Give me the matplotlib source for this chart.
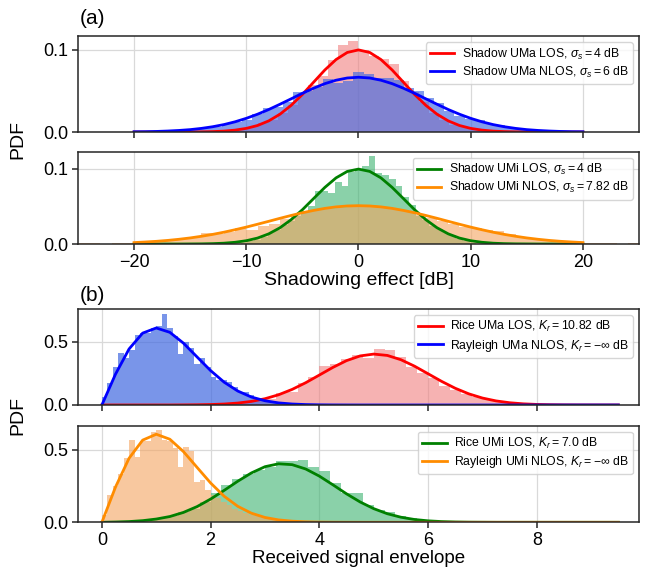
import numpy as np
import matplotlib
matplotlib.use('Agg')
import matplotlib.pyplot as plt

plt.rcParams['font.family'] = ['Liberation Sans', 'DejaVu Sans']
plt.rcParams['mathtext.fontset'] = 'custom'
plt.rcParams['mathtext.rm'] = 'Liberation Sans'
plt.rcParams['mathtext.it'] = 'Liberation Sans:italic'

# ---- (a) shadowing: fitted pdf curves, x = -20..20 dB ----
shadow_x = np.arange(-20, 21)
uma_los_pdf = [0, 0, 0, 0, 0, 0.0001, 0.0002, 0.0005, 0.0011, 0.0023, 0.0044, 0.0079, 0.0135,
               0.0216, 0.0324, 0.0456, 0.0605, 0.0753, 0.0880, 0.0966, 0.0997, 0.0966, 0.0880,
               0.0753, 0.0605, 0.0456, 0.0324, 0.0216, 0.0135, 0.0079, 0.0044, 0.0023, 0.0011,
               0.0005, 0.0002, 0.0001, 0, 0, 0, 0, 0]
uma_nlos_pdf = [0.0003, 0.0004, 0.0007, 0.0012, 0.0019, 0.0029, 0.0044, 0.0064, 0.0090, 0.0124,
                0.0166, 0.0216, 0.0273, 0.0337, 0.0403, 0.0470, 0.0532, 0.0587, 0.0629, 0.0656,
                0.0665, 0.0656, 0.0629, 0.0587, 0.0532, 0.0470, 0.0403, 0.0337, 0.0273, 0.0216,
                0.0166, 0.0124, 0.0090, 0.0064, 0.0044, 0.0029, 0.0019, 0.0012, 0.0007, 0.0004,
                0.0003]
umi_los_pdf = uma_los_pdf
umi_nlos_pdf = [0.0019, 0.0027, 0.0036, 0.0048, 0.0063, 0.0081, 0.0103, 0.0128, 0.0157, 0.0190,
                0.0225, 0.0263, 0.0302, 0.0342, 0.0380, 0.0416, 0.0447, 0.0474, 0.0494, 0.0506,
                0.0510, 0.0506, 0.0494, 0.0474, 0.0447, 0.0416, 0.0380, 0.0342, 0.0302, 0.0263,
                0.0225, 0.0190, 0.0157, 0.0128, 0.0103, 0.0081, 0.0063, 0.0048, 0.0036, 0.0027,
                0.0019]

# ---- (a) shadowing: histograms (density per bin) ----
uma_los_bins = (-13.5, 0.9)   # (first edge, bin width)
uma_los_hist = [0.0005, 0.001, 0.002, 0.003, 0.006, 0.011, 0.015, 0.023, 0.033, 0.047, 0.057,
                0.068, 0.088, 0.106, 0.111, 0.099, 0.092, 0.089, 0.083, 0.062, 0.048, 0.036,
                0.023, 0.015, 0.009, 0.006, 0.003, 0.002, 0.001, 0.0005]
uma_nlos_bins = (-21.15, 0.9)
uma_nlos_hist = [0.0003, 0.0005, 0.0005, 0.001, 0.001, 0.002, 0.003, 0.004, 0.006, 0.006, 0.010,
                 0.012, 0.015, 0.022, 0.029, 0.030, 0.036, 0.048, 0.050, 0.055, 0.064, 0.060,
                 0.062, 0.073, 0.071, 0.066, 0.065, 0.063, 0.054, 0.050, 0.041, 0.035, 0.026,
                 0.020, 0.016, 0.014, 0.010, 0.008, 0.005, 0.004, 0.003, 0.002, 0.001, 0.001,
                 0.0005, 0.0003, 0.0003]
umi_los_bins = (-10.5, 0.6)
umi_los_hist = [0.002, 0.004, 0.006, 0.009, 0.014, 0.019, 0.025, 0.031, 0.037, 0.044, 0.050,
                0.071, 0.071, 0.068, 0.083, 0.077, 0.096, 0.099, 0.104, 0.117, 0.095, 0.092,
                0.086, 0.077, 0.063, 0.052, 0.037, 0.032, 0.024, 0.020, 0.014, 0.012, 0.007,
                0.004, 0.002]
umi_nlos_bins = (-25.0, 1.0)
umi_nlos_hist = [0.0008, 0.0008, 0.0004, 0.001, 0.0015, 0.0025, 0.004, 0.006, 0.007, 0.008,
                 0.0095, 0.014, 0.013, 0.016, 0.021, 0.019, 0.024, 0.027, 0.033, 0.038, 0.042,
                 0.046, 0.047, 0.048, 0.049, 0.050, 0.049, 0.048, 0.047, 0.043, 0.039, 0.035,
                 0.031, 0.026, 0.023, 0.021, 0.018, 0.017, 0.013, 0.010, 0.008, 0.006, 0.004,
                 0.003, 0.002, 0.0015, 0.001, 0.0008, 0.0005, 0.0008]

# ---- (b) envelope: fitted pdf curves, x = 0..9.5 ----
env_x = np.arange(0, 9.75, 0.25)
rayleigh_pdf = [0, 0.2423, 0.4412, 0.5661, 0.6065, 0.5722, 0.4870, 0.3785, 0.2707, 0.1791,
                0.1098, 0.0626, 0.0333, 0.0165, 0.0077, 0.0033, 0.0013, 0.0005, 0.0002,
                0, 0, 0, 0, 0, 0, 0, 0, 0, 0, 0, 0, 0, 0, 0, 0, 0, 0, 0, 0]
rice_uma_pdf = [0, 0, 0, 0, 0, 0, 0.0006, 0.0016, 0.0036, 0.0076, 0.0152, 0.0283, 0.0493,
                0.0804, 0.1228, 0.1757, 0.2357, 0.2962, 0.3493, 0.3864, 0.4009, 0.3903, 0.3566,
                0.3058, 0.2459, 0.1857, 0.1316, 0.0876, 0.0547, 0.0321, 0.0177, 0.0091, 0.0044,
                0.0020, 0.0008, 0.0003, 0.0001, 0, 0]
rice_umi_pdf = [0, 0.0019, 0.0050, 0.0112, 0.0224, 0.0397, 0.068, 0.108, 0.160, 0.220, 0.283,
                0.340, 0.383, 0.403, 0.397, 0.367, 0.318, 0.258, 0.196, 0.140, 0.094, 0.059,
                0.035, 0.0193, 0.0100, 0.0049, 0.0022, 0.0009, 0.0004, 0, 0, 0, 0, 0, 0, 0, 0,
                0, 0]

# ---- (b) envelope: histograms ----
rice_uma_bins = (1.6, 0.2)
rice_uma_hist = [0.001, 0.002, 0.004, 0.008, 0.015, 0.025, 0.040, 0.050, 0.098, 0.105, 0.17,
                 0.22, 0.31, 0.32, 0.36, 0.39, 0.37, 0.44, 0.43, 0.38, 0.30, 0.25, 0.21, 0.15,
                 0.12, 0.09, 0.066, 0.045, 0.03, 0.02, 0.012, 0.007, 0.004, 0.002, 0.001,
                 0.0007, 0.0004, 0.0003, 0.0003]
rayleigh_uma_bins = (0.0, 0.1)
rayleigh_uma_hist = [0.06, 0.17, 0.30, 0.41, 0.37, 0.43, 0.55, 0.57, 0.57, 0.61, 0.62, 0.72,
                     0.61, 0.54, 0.40, 0.50, 0.45, 0.32, 0.37, 0.30, 0.22, 0.20, 0.20, 0.18,
                     0.145, 0.105, 0.10, 0.08, 0.05, 0.035, 0.026, 0.02, 0.015, 0.01, 0.007,
                     0.005, 0.003, 0.002, 0.001, 0.001]
rice_umi_bins = (0.0, 0.2)
rice_umi_hist = [0.0, 0.002, 0.004, 0.010, 0.020, 0.030, 0.045, 0.070, 0.095, 0.14, 0.20, 0.26,
                 0.30, 0.33, 0.36, 0.38, 0.42, 0.42, 0.43, 0.38, 0.35, 0.27, 0.20, 0.20, 0.12,
                 0.085, 0.07, 0.04, 0.027, 0.011, 0.008, 0.004, 0.002, 0.001, 0.0006, 0.0003]
rayleigh_umi_bins = (0.0, 0.1)
rayleigh_umi_hist = [0.05, 0.19, 0.25, 0.33, 0.44, 0.57, 0.45, 0.56, 0.56, 0.62, 0.635, 0.57,
                     0.56, 0.51, 0.38, 0.52, 0.49, 0.28, 0.29, 0.22, 0.19, 0.165, 0.14, 0.12,
                     0.095, 0.08, 0.065, 0.05, 0.04, 0.03, 0.022, 0.017, 0.012, 0.009, 0.006,
                     0.004, 0.003, 0.002, 0.001, 0.001]


def draw_hist(ax, bins, heights, color, alpha):
    start, w = bins
    edges = start + w * np.arange(len(heights))
    ax.bar(edges, heights, width=w, align='edge', color=color, alpha=alpha, linewidth=0)


def style_axes(ax, yticks):
    ax.grid(True, color='#d9d9d9', linewidth=0.9)
    ax.set_axisbelow(True)
    for s in ax.spines.values():
        s.set_color('#262626')
        s.set_linewidth(1.1)
    ax.tick_params(labelsize=13, length=4.5, width=1.1, color='#262626', pad=2.5)
    ax.set_yticks(yticks)
    ax.yaxis.set_major_formatter(plt.FormatStrFormatter('%.1f'))
    ax.legend(loc='upper right', fontsize=8.8, handlelength=2.0,
              labelspacing=0.25, borderpad=0.35, handletextpad=0.6)


fig = plt.figure(figsize=(6.46, 5.70), dpi=100)
left, width = 0.1207, 0.8685
ax1 = fig.add_axes([left, 0.7684, width, 0.1684])
ax2 = fig.add_axes([left, 0.5719, width, 0.1620], sharex=ax1)
ax3 = fig.add_axes([left, 0.2895, width, 0.1684])
ax4 = fig.add_axes([left, 0.0837, width, 0.1698], sharex=ax3)

# (a) UMa
draw_hist(ax1, uma_los_bins, uma_los_hist, 'lightcoral', 0.6)
draw_hist(ax1, uma_nlos_bins, uma_nlos_hist, 'royalblue', 0.65)
ax1.plot(shadow_x, uma_los_pdf, color='red', lw=2, label=r'Shadow UMa LOS, $\sigma_s = 4$ dB')
ax1.plot(shadow_x, uma_nlos_pdf, color='blue', lw=2, label=r'Shadow UMa NLOS, $\sigma_s = 6$ dB')

# (a) UMi
draw_hist(ax2, umi_los_bins, umi_los_hist, 'mediumseagreen', 0.6)
draw_hist(ax2, umi_nlos_bins, umi_nlos_hist, 'sandybrown', 0.6)
ax2.plot(shadow_x, umi_los_pdf, color='green', lw=2, label=r'Shadow UMi LOS, $\sigma_s = 4$ dB')
ax2.plot(shadow_x, umi_nlos_pdf, color='darkorange', lw=2, label=r'Shadow UMi NLOS, $\sigma_s = 7.82$ dB')

# (b) UMa
draw_hist(ax3, rice_uma_bins, rice_uma_hist, 'lightcoral', 0.6)
draw_hist(ax3, rayleigh_uma_bins, rayleigh_uma_hist, 'royalblue', 0.7)
ax3.plot(env_x, rice_uma_pdf, color='red', lw=2, label=r'Rice UMa LOS, $K_r = 10.82$ dB')
ax3.plot(env_x, rayleigh_pdf, color='blue', lw=2, label=r'Rayleigh UMa NLOS, $K_r = -\infty$ dB')

# (b) UMi
draw_hist(ax4, rice_umi_bins, rice_umi_hist, 'mediumseagreen', 0.6)
draw_hist(ax4, rayleigh_umi_bins, rayleigh_umi_hist, 'sandybrown', 0.6)
ax4.plot(env_x, rice_umi_pdf, color='green', lw=2, label=r'Rice UMi LOS, $K_r = 7.0$ dB')
ax4.plot(env_x, rayleigh_pdf, color='darkorange', lw=2, label=r'Rayleigh UMi NLOS, $K_r = -\infty$ dB')

for ax in (ax1, ax2):
    style_axes(ax, [0.0, 0.1])
for ax in (ax3, ax4):
    style_axes(ax, [0.0, 0.5])

ax1.set_xlim(-25, 25)
ax1.set_xticks([-20, -10, 0, 10, 20])
ax1.tick_params(labelbottom=False)
ax2.set_xlabel('Shadowing effect [dB]', fontsize=14, labelpad=1)

ax3.set_xlim(-0.44, 9.88)
ax3.set_xticks([0, 2, 4, 6, 8])
ax3.tick_params(labelbottom=False)
ax4.set_xlabel('Received signal envelope', fontsize=13.5, labelpad=1)

fig.text(0.028, 0.7544, 'PDF', rotation=90, fontsize=14, ha='center', va='center')
fig.text(0.028, 0.271, 'PDF', rotation=90, fontsize=14, ha='center', va='center')
fig.text(0.124, 0.967, '(a)', fontsize=15, ha='left', va='center')
fig.text(0.124, 0.481, '(b)', fontsize=15, ha='left', va='center')

fig.savefig('out.png', dpi=100)
